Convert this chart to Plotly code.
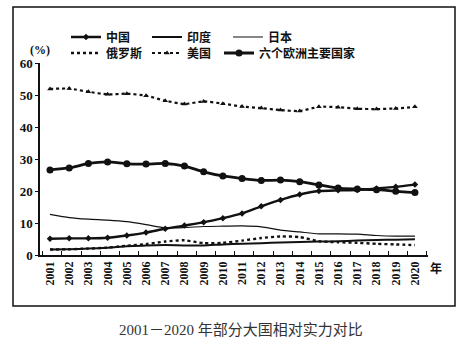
import plotly.graph_objects as go

years = list(range(2001, 2021))
year_labels = [str(y) for y in years]

china = [5.1, 5.2, 5.2, 5.4, 6.1, 7.0, 8.2, 9.2, 10.2, 11.5, 13.0, 15.2, 17.2, 18.9, 20.0, 20.2, 20.3, 20.8, 21.3, 22.0]
india = [1.7, 1.8, 2.0, 2.3, 2.7, 3.0, 3.1, 3.0, 3.0, 3.3, 3.5, 3.7, 3.9, 4.1, 4.2, 4.3, 4.5, 4.7, 4.8, 4.9]
japan = [12.7, 11.7, 11.2, 10.9, 10.4, 9.5, 8.5, 8.6, 8.9, 9.0, 9.1, 8.8, 7.8, 7.2, 6.6, 6.6, 6.5, 6.1, 5.9, 5.9]
russia = [1.7, 1.8, 2.0, 2.3, 2.9, 3.4, 4.2, 4.6, 3.7, 3.8, 4.5, 5.3, 5.8, 5.6, 4.3, 4.0, 3.8, 3.5, 3.3, 3.1]
usa = [51.9, 52.0, 51.0, 50.2, 50.4, 49.8, 48.2, 47.2, 48.0, 47.3, 46.4, 45.9, 45.3, 45.0, 46.3, 46.2, 45.7, 45.6, 45.8, 46.3]
europe6 = [26.6, 27.2, 28.6, 29.1, 28.5, 28.4, 28.6, 27.8, 26.0, 24.7, 23.9, 23.3, 23.4, 22.9, 21.9, 20.9, 20.6, 20.4, 19.9, 19.5]

names = ["中国", "印度", "日本", "俄罗斯", "美国", "六个欧洲主要国家"]
y_ticks = [0, 10, 20, 30, 40, 50, 60]

W, H = 472, 345
ML, MR, MT, MB = 40, 44, 63, 90
PW, PH = W - ML - MR, H - MT - MB

def px(x):
    return (x - ML) / PW

def py(y):
    return 1 - (y - MT) / PH

fig = go.Figure()
black = "#111111"
fig.add_trace(go.Scatter(x=years, y=china, name=names[0], mode="lines+markers", legend="legend",
                         line=dict(color=black, width=2.4, shape="spline", smoothing=0.6),
                         marker=dict(symbol="diamond", size=5, color=black)))
fig.add_trace(go.Scatter(x=years, y=india, name=names[1], mode="lines", legend="legend",
                         line=dict(color=black, width=2.0, shape="spline", smoothing=0.6)))
fig.add_trace(go.Scatter(x=years, y=japan, name=names[2], mode="lines", legend="legend",
                         line=dict(color=black, width=1.2, shape="spline", smoothing=0.6)))
fig.add_trace(go.Scatter(x=years, y=russia, name=names[3], mode="lines", legend="legend2",
                         line=dict(color=black, width=2.4, dash="dot", shape="spline", smoothing=0.6)))
fig.add_trace(go.Scatter(x=years, y=usa, name=names[4], mode="lines+markers", legend="legend2",
                         line=dict(color=black, width=2.2, dash="dot", shape="spline", smoothing=0.6),
                         marker=dict(symbol="triangle-up", size=5, color=black)))
fig.add_trace(go.Scatter(x=years, y=europe6, name=names[5], mode="lines+markers", legend="legend3",
                         line=dict(color=black, width=2.8, shape="spline", smoothing=0.6),
                         marker=dict(symbol="circle", size=7, color=black)))

cjk = "Noto Sans CJK SC"
serif = "Liberation Serif"

leg_common = dict(orientation="h", xanchor="left", yanchor="middle", bgcolor="rgba(0,0,0,0)",
                  font=dict(family=cjk, size=12, color=black, weight=700),
                  itemwidth=30, tracegroupgap=0, traceorder="normal")
fig.update_layout(
    width=W, height=H,
    margin=dict(l=ML, r=MR, t=MT, b=MB),
    paper_bgcolor="white", plot_bgcolor="white",
    showlegend=True,
    legend=dict(x=px(66), y=py(37), entrywidth=36, entrywidthmode="pixels", **leg_common),
    legend2=dict(x=px(66), y=py(53), entrywidth=36, entrywidthmode="pixels", **leg_common),
    legend3=dict(x=px(219), y=py(53), **leg_common),
    xaxis=dict(range=[2000.48, 2020.68], tickvals=years, ticktext=year_labels, tickangle=-90,
               ticks="", showline=True, linecolor=black, linewidth=1.5, showgrid=False, zeroline=False,
               tickfont=dict(family=serif, size=12, color=black, weight=700),
               minor=dict(ticks="inside", tick0=2001.62, dtick=1, ticklen=4, tickcolor=black, tickwidth=1.2, showgrid=False)),
    yaxis=dict(range=[0, 60], tickvals=y_ticks, ticks="outside", ticklen=3, tickcolor=black, tickwidth=1.2,
               showline=True, linecolor=black, linewidth=1.5, showgrid=False, zeroline=False,
               tickfont=dict(family=serif, size=13, color=black, weight=700)),
)

fig.add_shape(type="rect", xref="paper", yref="paper", x0=px(13), x1=px(455), y0=py(306), y1=py(7),
              line=dict(color="#111111", width=1.5), fillcolor="rgba(0,0,0,0)", layer="below")

fig.add_annotation(xref="paper", yref="paper", x=px(40), y=py(50), text="(%)", showarrow=False,
                   font=dict(family=serif, size=12, color=black, weight=700), xanchor="center", yanchor="middle")
fig.add_annotation(xref="paper", yref="paper", x=px(436), y=py(267), text="年", showarrow=False,
                   font=dict(family=cjk, size=12, color=black, weight=700), xanchor="center", yanchor="middle")
fig.add_annotation(xref="paper", yref="paper", x=px(241), y=py(330),
                   text="2001－2020 年部分大国相对实力对比", showarrow=False,
                   font=dict(family="Liberation Serif, Noto Sans CJK SC", size=15, color="#333333"),
                   xanchor="center", yanchor="middle")

fig.write_html("out.html")
